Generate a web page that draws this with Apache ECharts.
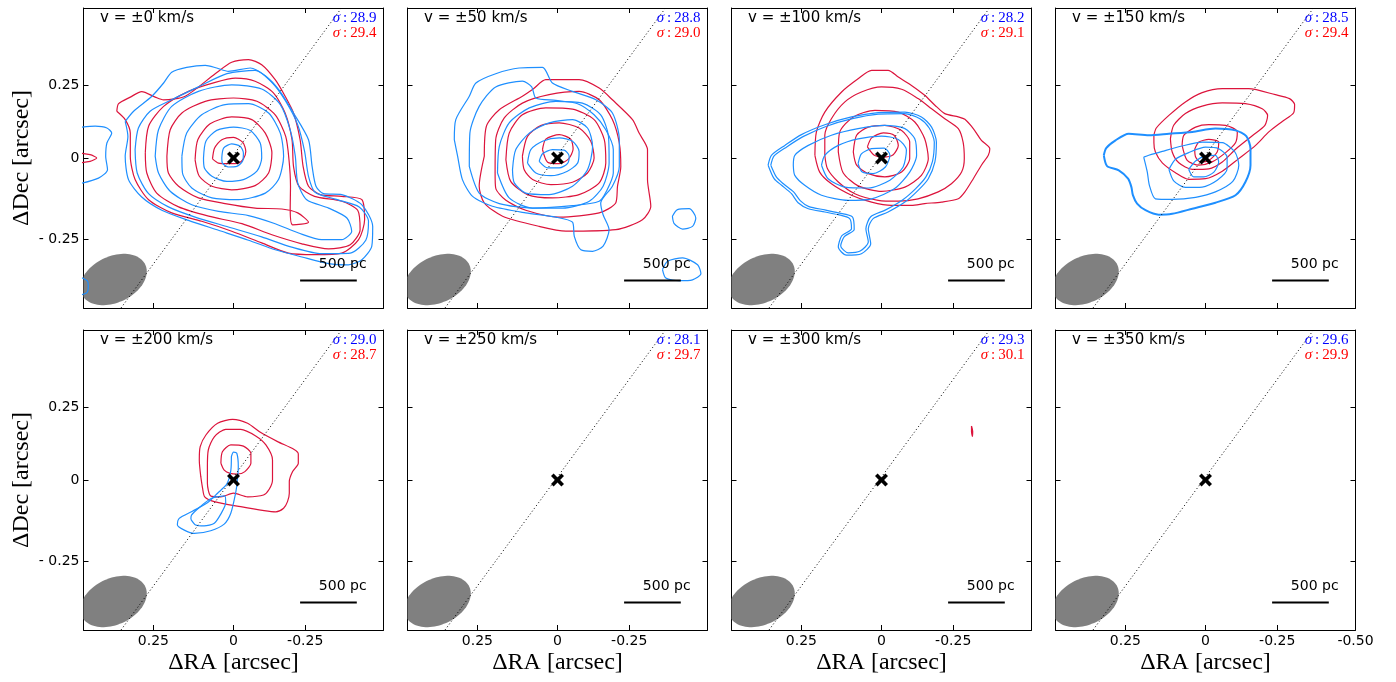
<!DOCTYPE html>
<html>
<head>
<meta charset="utf-8">
<script src="https://cdn.jsdelivr.net/npm/echarts@6/dist/echarts.min.js"></script>
<style>
html,body{margin:0;padding:0;background:#fff;}
#chart{width:1396px;height:682px;}
</style>
</head>
<body>
<div id="chart"></div>
<script>
// Channel velocities and map noise levels
const velocityText = ['±0', '±50', '±100', '±150', '±200', '±250', '±300', '±350'];
const sigmaBlue = ['28.9', '28.8', '28.2', '28.5', '29.0', '28.1', '29.3', '29.6'];
const sigmaRed  = ['29.4', '29.0', '29.1', '29.4', '28.7', '29.7', '30.1', '29.9'];

// Tick marks (arcsec offsets) and their printed labels
const xTickPos  = [0.267, 0, -0.239, -0.5];
const xTickText = ['0.25', '0', '-0.25', '-0.50'];
const yTickPos  = [0.241, 0, -0.27];
const yTickText = ['0.25', '0', '- 0.25'];

// Synthesised beam: centre, semi-axes (arcsec), tilt (deg)
const beamCenter = [0.40, -0.405];
const beamSemiAxes = [0.117, 0.077];
const beamTilt = 25;

// Kinematic major axis (dotted line), scale bar
const majorAxisEnds = [[0.375, -0.5], [-0.36, 0.5]];
const scaleBarEnds = [[-0.222, -0.408], [-0.411, -0.408]];
const scaleBarLabelAt = [-0.364, -0.353];
const scaleBarText = '500 pc';
const nucleus = [0, 0];

// Contours, [ΔRA, ΔDec] in arcsec, per channel
const blue0 = [
  [[0.361,0.122],[0.333,0.156],[0.272,0.206],[0.233,0.25],[0.206,0.286],[0.156,0.302],[0.094,0.309],[0.056,0.3],[0.017,0.289],[-0.056,0.3],[-0.106,0.274],[-0.152,0.226],[-0.2,0.15],[-0.25,0.061],[-0.262,-0.028],[-0.275,-0.094],[-0.3,-0.119],[-0.361,-0.122],[-0.428,-0.156],[-0.464,-0.228],[-0.461,-0.294],[-0.428,-0.339],[-0.383,-0.356],[-0.317,-0.352],[-0.228,-0.33],[-0.139,-0.306],[-0.05,-0.274],[0.05,-0.241],[0.15,-0.208],[0.239,-0.174],[0.306,-0.13],[0.35,-0.072],[0.361,0.006],[0.352,0.072]],
  [[0.328,0.028],[0.317,0.1],[0.278,0.156],[0.206,0.194],[0.117,0.237],[0.022,0.281],[-0.072,0.292],[-0.13,0.25],[-0.174,0.189],[-0.214,0.111],[-0.237,0.022],[-0.25,-0.061],[-0.272,-0.114],[-0.339,-0.137],[-0.419,-0.163],[-0.45,-0.211],[-0.441,-0.274],[-0.389,-0.317],[-0.294,-0.319],[-0.194,-0.297],[-0.094,-0.263],[0.017,-0.23],[0.128,-0.197],[0.217,-0.163],[0.283,-0.119],[0.321,-0.05]],
  [[0.261,0.006],[0.25,0.094],[0.206,0.172],[0.117,0.222],[0.006,0.244],[-0.094,0.23],[-0.156,0.178],[-0.189,0.094],[-0.206,0.006],[-0.214,-0.083],[-0.244,-0.139],[-0.317,-0.167],[-0.378,-0.2],[-0.394,-0.244],[-0.361,-0.272],[-0.294,-0.272],[-0.217,-0.25],[-0.139,-0.219],[-0.05,-0.192],[0.05,-0.178],[0.139,-0.156],[0.211,-0.111],[0.25,-0.05]],
  [[0.172,0.006],[0.156,0.083],[0.106,0.144],[0.028,0.178],[-0.05,0.181],[-0.117,0.15],[-0.156,0.083],[-0.167,0.006],[-0.15,-0.072],[-0.106,-0.117],[-0.017,-0.139],[0.072,-0.133],[0.139,-0.1],[0.17,-0.05]],
  [[0.1,0],[0.092,0.056],[0.056,0.092],[0,0.103],[-0.056,0.092],[-0.089,0.05],[-0.094,0],[-0.078,-0.044],[-0.033,-0.072],[0.022,-0.078],[0.072,-0.061],[0.097,-0.033]],
  [[0.039,0],[0.033,0.033],[0.006,0.047],[-0.022,0.039],[-0.033,0.017],[-0.03,-0.011],[-0.011,-0.028],[0.017,-0.03],[0.037,-0.017]],
  [[0.53,0.1],[0.461,0.106],[0.422,0.1],[0.406,0.083],[0.422,0.05],[0.426,0.006],[0.42,-0.039],[0.45,-0.067],[0.53,-0.09]],
  [[0.53,-0.39],[0.487,-0.41],[0.484,-0.43],[0.49,-0.45],[0.53,-0.46]]
];
const red0 = [
  [[0.389,0.156],[0.383,0.181],[0.344,0.203],[0.306,0.221],[0.261,0.203],[0.233,0.194],[0.161,0.206],[0.061,0.281],[0.006,0.319],[-0.05,0.328],[-0.094,0.311],[-0.139,0.261],[-0.172,0.206],[-0.2,0.15],[-0.222,0.061],[-0.232,-0.028],[-0.25,-0.094],[-0.289,-0.122],[-0.361,-0.128],[-0.428,-0.139],[-0.437,-0.206],[-0.417,-0.272],[-0.361,-0.317],[-0.272,-0.322],[-0.183,-0.317],[-0.094,-0.283],[0.006,-0.244],[0.106,-0.211],[0.206,-0.183],[0.283,-0.139],[0.328,-0.072],[0.344,0.006],[0.344,0.083],[0.361,0.128]],
  [[0.294,0.017],[0.283,0.106],[0.233,0.172],[0.15,0.222],[0.061,0.252],[-0.006,0.266],[-0.072,0.256],[-0.133,0.217],[-0.172,0.15],[-0.195,0.061],[-0.2,-0.028],[-0.218,-0.094],[-0.27,-0.128],[-0.361,-0.144],[-0.414,-0.174],[-0.422,-0.239],[-0.389,-0.289],[-0.317,-0.303],[-0.228,-0.286],[-0.128,-0.256],[-0.028,-0.219],[0.083,-0.194],[0.183,-0.163],[0.256,-0.117],[0.289,-0.05]],
  [[0.222,0.006],[0.211,0.094],[0.172,0.15],[0.094,0.189],[0,0.2],[-0.078,0.189],[-0.139,0.144],[-0.174,0.072],[-0.185,-0.006],[-0.19,-0.094],[-0.189,-0.172],[-0.197,-0.223],[-0.25,-0.214],[-0.214,-0.183],[-0.161,-0.17],[-0.072,-0.167],[0.028,-0.152],[0.117,-0.133],[0.183,-0.094],[0.217,-0.05]],
  [[0.128,-0.006],[0.119,0.061],[0.078,0.114],[0.006,0.137],[-0.061,0.128],[-0.106,0.083],[-0.128,0.017],[-0.117,-0.05],[-0.072,-0.092],[0.006,-0.106],[0.072,-0.094],[0.114,-0.061]],
  [[0.07,-0.003],[0.063,0.033],[0.039,0.061],[0,0.069],[-0.031,0.052],[-0.041,0.022],[-0.033,-0.003],[-0.017,-0.017],[0.017,-0.019],[0.05,-0.017]],
  [[0.53,0.018],[0.478,0.011],[0.456,0],[0.478,-0.011],[0.53,-0.018]]
];

const blue1 = [
  [[0.344,0.061],[0.339,0.128],[0.294,0.206],[0.272,0.25],[0.206,0.281],[0.128,0.3],[0.05,0.302],[0.017,0.25],[-0.05,0.222],[-0.128,0.194],[-0.183,0.15],[-0.206,0.061],[-0.206,-0.028],[-0.183,-0.094],[-0.144,-0.15],[-0.152,-0.189],[-0.172,-0.239],[-0.152,-0.294],[-0.117,-0.311],[-0.078,-0.306],[-0.056,-0.261],[-0.05,-0.214],[0.006,-0.197],[0.106,-0.183],[0.217,-0.161],[0.283,-0.128],[0.317,-0.072],[0.333,0.006]],
  [[0.294,-0.028],[0.292,0.083],[0.261,0.172],[0.206,0.237],[0.117,0.256],[0.086,0.237],[0.072,0.2],[0.006,0.192],[-0.067,0.181],[-0.122,0.144],[-0.161,0.094],[-0.186,0.028],[-0.186,-0.05],[-0.163,-0.111],[-0.139,-0.144],[-0.05,-0.159],[0.083,-0.167],[0.194,-0.152],[0.261,-0.117]],
  [[0.2,-0.05],[0.194,0.039],[0.161,0.117],[0.094,0.167],[0.006,0.189],[-0.083,0.183],[-0.144,0.144],[-0.17,0.072],[-0.172,-0.017],[-0.152,-0.094],[-0.106,-0.144],[-0.017,-0.167],[0.083,-0.167],[0.161,-0.133]],
  [[0.15,-0.039],[0.139,0.028],[0.094,0.083],[0.028,0.117],[-0.05,0.128],[-0.1,0.1],[-0.117,0.039],[-0.1,-0.039],[-0.05,-0.094],[0.028,-0.122],[0.106,-0.117],[0.144,-0.083]],
  [[0.1,-0.017],[0.089,0.028],[0.05,0.056],[-0.006,0.067],[-0.05,0.056],[-0.072,0.022],[-0.067,-0.017],[-0.033,-0.044],[0.022,-0.059],[0.072,-0.05]],
  [[0.061,-0.011],[0.05,0.014],[0.017,0.028],[-0.022,0.026],[-0.039,0.006],[-0.033,-0.019],[-0.006,-0.033],[0.033,-0.033]],
  [[-0.383,-0.194],[-0.4,-0.172],[-0.439,-0.169],[-0.461,-0.2],[-0.45,-0.228],[-0.417,-0.237],[-0.389,-0.219]],
  [[-0.35,-0.372],[-0.367,-0.344],[-0.417,-0.333],[-0.467,-0.356],[-0.478,-0.386],[-0.45,-0.406],[-0.406,-0.409],[-0.361,-0.4]]
];
const red1 = [
  [[0.244,0.006],[0.237,0.106],[0.194,0.161],[0.117,0.206],[0.081,0.23],[0.039,0.261],[-0.072,0.261],[-0.139,0.233],[-0.183,0.194],[-0.25,0.128],[-0.272,0.083],[-0.3,0.028],[-0.3,-0.072],[-0.311,-0.161],[-0.283,-0.206],[-0.194,-0.239],[-0.028,-0.244],[0.061,-0.228],[0.183,-0.194],[0.244,-0.15],[0.261,-0.094]],
  [[0.208,-0.05],[0.206,0.061],[0.178,0.133],[0.117,0.183],[0.028,0.211],[-0.072,0.222],[-0.139,0.194],[-0.183,0.128],[-0.206,0.05],[-0.211,-0.028],[-0.2,-0.094],[-0.194,-0.15],[-0.139,-0.183],[-0.006,-0.197],[0.106,-0.174],[0.172,-0.141],[0.206,-0.1]],
  [[0.172,-0.006],[0.161,0.083],[0.117,0.144],[0.039,0.167],[-0.05,0.163],[-0.122,0.128],[-0.156,0.061],[-0.161,-0.017],[-0.139,-0.083],[-0.072,-0.122],[0.017,-0.133],[0.1,-0.122],[0.156,-0.078]],
  [[0.117,0.006],[0.1,0.072],[0.056,0.108],[-0.006,0.117],[-0.072,0.1],[-0.111,0.056],[-0.122,0],[-0.1,-0.05],[-0.05,-0.081],[0.022,-0.089],[0.083,-0.072],[0.111,-0.039]],
  [[0.05,0.028],[0.039,0.063],[-0.006,0.078],[-0.044,0.063],[-0.052,0.03],[-0.037,-0.003],[-0.006,-0.019],[0.033,-0.014]]
];

const blue2 = [
  [[0.378,-0.024],[0.367,0.009],[0.322,0.042],[0.267,0.078],[0.189,0.111],[0.1,0.137],[0.011,0.151],[-0.078,0.153],[-0.133,0.137],[-0.167,0.103],[-0.183,0.053],[-0.178,-0.013],[-0.156,-0.069],[-0.122,-0.108],[-0.078,-0.147],[-0.022,-0.18],[0.028,-0.202],[0.044,-0.236],[0.036,-0.286],[0.067,-0.319],[0.117,-0.324],[0.144,-0.297],[0.133,-0.26],[0.1,-0.236],[0.106,-0.202],[0.144,-0.189],[0.189,-0.18],[0.244,-0.169],[0.278,-0.149],[0.3,-0.119],[0.333,-0.091],[0.358,-0.069]],
  [[0.369,-0.024],[0.358,0.007],[0.316,0.037],[0.26,0.072],[0.183,0.106],[0.097,0.131],[0.011,0.146],[-0.076,0.148],[-0.128,0.131],[-0.159,0.1],[-0.176,0.053],[-0.17,-0.011],[-0.148,-0.063],[-0.114,-0.102],[-0.07,-0.14],[-0.014,-0.173],[0.036,-0.196],[0.052,-0.236],[0.044,-0.28],[0.071,-0.31],[0.111,-0.316],[0.136,-0.293],[0.124,-0.262],[0.091,-0.238],[0.097,-0.196],[0.144,-0.183],[0.189,-0.173],[0.242,-0.162],[0.271,-0.142],[0.293,-0.113],[0.327,-0.086],[0.35,-0.064]],
  [[0.294,-0.024],[0.289,0.009],[0.244,0.042],[0.167,0.076],[0.078,0.098],[-0.011,0.109],[-0.078,0.098],[-0.111,0.064],[-0.117,0.009],[-0.094,-0.047],[-0.044,-0.102],[0.033,-0.136],[0.111,-0.141],[0.2,-0.124],[0.256,-0.091],[0.289,-0.058]],
  [[0.2,-0.024],[0.189,0.009],[0.144,0.042],[0.078,0.064],[0,0.073],[-0.056,0.062],[-0.083,0.026],[-0.072,-0.03],[-0.028,-0.074],[0.044,-0.1],[0.122,-0.097],[0.178,-0.069]],
  [[0.078,-0.019],[0.067,0.014],[0.033,0.031],[-0.009,0.033],[-0.028,0.009],[-0.013,-0.03],[0.028,-0.052],[0.064,-0.047]]
];
const red2 = [
  [[0.222,0.009],[0.217,0.087],[0.189,0.153],[0.133,0.22],[0.078,0.264],[0.033,0.292],[-0.022,0.292],[-0.056,0.27],[-0.1,0.242],[-0.144,0.209],[-0.178,0.176],[-0.211,0.148],[-0.256,0.137],[-0.278,0.129],[-0.306,0.098],[-0.333,0.059],[-0.361,0.031],[-0.356,0.009],[-0.333,-0.024],[-0.306,-0.069],[-0.278,-0.113],[-0.256,-0.136],[-0.2,-0.147],[-0.144,-0.152],[-0.1,-0.158],[-0.033,-0.158],[0.033,-0.147],[0.1,-0.124],[0.167,-0.086],[0.206,-0.047]],
  [[0.189,0.009],[0.189,0.076],[0.167,0.131],[0.122,0.187],[0.067,0.22],[0,0.237],[-0.067,0.229],[-0.122,0.198],[-0.167,0.164],[-0.211,0.131],[-0.256,0.098],[-0.272,0.053],[-0.276,-0.002],[-0.267,-0.047],[-0.233,-0.086],[-0.189,-0.113],[-0.122,-0.136],[-0.056,-0.144],[0.011,-0.141],[0.089,-0.119],[0.144,-0.08],[0.18,-0.036]],
  [[0.144,0.02],[0.139,0.087],[0.094,0.137],[0.022,0.159],[-0.056,0.153],[-0.111,0.12],[-0.144,0.064],[-0.156,-0.002],[-0.133,-0.058],[-0.078,-0.097],[0,-0.111],[0.078,-0.093],[0.128,-0.049]],
  [[0.094,0.02],[0.083,0.076],[0.044,0.103],[-0.011,0.109],[-0.067,0.092],[-0.094,0.053],[-0.094,-0.002],[-0.067,-0.047],[-0.011,-0.063],[0.044,-0.052],[0.083,-0.024]],
  [[0.047,0.037],[0.033,0.067],[-0.006,0.084],[-0.042,0.076],[-0.056,0.042],[-0.039,0.011],[-0.009,0.003],[0.024,0.009]]
];

const blue3 = [
  [[0.339,0.009],[0.331,0.033],[0.3,0.059],[0.256,0.081],[0.189,0.076],[0.122,0.081],[0.044,0.087],[-0.033,0.098],[-0.1,0.092],[-0.136,0.073],[-0.15,0.031],[-0.15,-0.024],[-0.133,-0.08],[-0.1,-0.124],[-0.033,-0.149],[0.044,-0.169],[0.111,-0.186],[0.156,-0.189],[0.2,-0.174],[0.228,-0.152],[0.242,-0.124],[0.247,-0.097],[0.258,-0.069],[0.289,-0.041],[0.328,-0.027]],
  [[0.206,0.003],[0.189,0.009],[0.144,0.022],[0.078,0.04],[0.011,0.053],[-0.056,0.051],[-0.098,0.02],[-0.111,-0.024],[-0.091,-0.078],[-0.033,-0.113],[0.033,-0.131],[0.111,-0.138],[0.167,-0.136],[0.187,-0.091],[0.194,-0.047]],
  [[0.122,-0.038],[0.1,-0.004],[0.056,0.018],[0,0.036],[-0.044,0.031],[-0.072,0.003],[-0.072,-0.036],[-0.039,-0.074],[0.011,-0.097],[0.067,-0.098],[0.106,-0.076]],
  [[0.056,-0.038],[0.033,-0.01],[0,0.007],[-0.033,0.009],[-0.044,-0.013],[-0.028,-0.047],[0.006,-0.063],[0.039,-0.063]]
];
const red3 = [
  [[0.172,0.076],[0.164,0.1],[0.122,0.142],[0.067,0.187],[0.011,0.218],[-0.056,0.231],[-0.144,0.231],[-0.233,0.211],[-0.28,0.198],[-0.297,0.178],[-0.294,0.151],[-0.256,0.122],[-0.211,0.087],[-0.167,0.042],[-0.111,-0.002],[-0.056,-0.044],[0,-0.069],[0.056,-0.071],[0.1,-0.049],[0.144,-0.016],[0.167,0.02],[0.172,0.051]],
  [[0.117,0.064],[0.106,0.109],[0.067,0.148],[0.011,0.173],[-0.056,0.184],[-0.133,0.181],[-0.189,0.164],[-0.207,0.142],[-0.198,0.109],[-0.158,0.076],[-0.102,0.031],[-0.056,-0.013],[-0.011,-0.036],[0.044,-0.038],[0.089,-0.016],[0.111,0.02]],
  [[0.078,0.042],[0.072,0.076],[0.033,0.103],[-0.011,0.111],[-0.067,0.109],[-0.106,0.087],[-0.1,0.051],[-0.067,0.018],[-0.022,-0.013],[0.022,-0.024],[0.061,-0.008]],
  [[0.036,0.029],[0.022,0.053],[-0.011,0.062],[-0.044,0.053],[-0.039,0.02],[-0.011,-0.008],[0.017,-0.013],[0.033,0.003]]
];

const blue4 = [
  [[0.007,0.078],[0,0.093],[-0.011,0.089],[-0.016,0.044],[-0.013,0],[-0.007,-0.044],[0.009,-0.111],[0.031,-0.147],[0.076,-0.169],[0.131,-0.178],[0.164,-0.167],[0.187,-0.15],[0.181,-0.128],[0.137,-0.104],[0.087,-0.076],[0.053,-0.044],[0.022,-0.013],[0.009,0.031]],
  [[0.142,-0.131],[0.14,-0.117],[0.111,-0.089],[0.073,-0.061],[0.029,-0.053],[0.026,-0.076],[0.042,-0.113],[0.064,-0.144],[0.098,-0.153],[0.126,-0.15]]
];
const red4 = [
  [[0.109,0.011],[0.114,0.067],[0.111,0.111],[0.092,0.15],[0.053,0.189],[0.003,0.202],[-0.047,0.189],[-0.091,0.158],[-0.147,0.128],[-0.202,0.102],[-0.216,0.087],[-0.216,0.056],[-0.197,0.028],[-0.186,-0.006],[-0.186,-0.044],[-0.18,-0.072],[-0.167,-0.094],[-0.141,-0.106],[-0.102,-0.102],[-0.024,-0.089],[0.064,-0.072],[0.096,-0.056],[0.103,-0.028]],
  [[0.087,0.044],[0.084,0.1],[0.064,0.144],[0.026,0.169],[-0.024,0.169],[-0.074,0.147],[-0.108,0.117],[-0.13,0.067],[-0.13,0],[-0.119,-0.031],[-0.1,-0.05],[-0.047,-0.056],[0,-0.044],[0.042,-0.056],[0.076,-0.053],[0.087,-0.011]],
  [[0.042,0.056],[0.037,0.094],[0.009,0.117],[-0.033,0.113],[-0.058,0.089],[-0.058,0.056],[-0.038,0.028],[-0.013,0.02],[0.011,0.022],[0.031,0.033]]
];

const red6 = [
  [[-0.3,0.18],[-0.304,0.162],[-0.303,0.145],[-0.3,0.162]]
];

const blueContours = [blue0, blue1, blue2, blue3, blue4, [], [], []];
const redContours  = [red0, red1, red2, red3, red4, [], red6, []];

// ---- layout & styling ----
const GRID_W = 300, GRID_H = 300;
const colLeft = [83.5, 407.5, 731.5, 1055.5];
const rowTop = [8, 330];
const BLUE = '#1e8fff', RED = '#dc143c';
const heavyBlue = { 3: [0] };   // channel 4: outer blue level drawn heavier
const SANS = 'DejaVu Sans', SERIF = 'Liberation Serif';

function tickText(v, pos, text) {
  for (let i = 0; i < pos.length; i++) if (Math.abs(pos[i] - v) < 1e-6) return text[i];
  return '';
}

function beamRender(params, api) {
  const c = api.coord([api.value(0), api.value(1)]);
  const s = api.size([api.value(2), api.value(3)]);
  const rx = Math.abs(s[0]), ry = Math.abs(s[1]);
  const t = api.value(4) * Math.PI / 180;
  const cs = params.coordSys;
  const pts = [];
  for (let k = 0; k < 90; k++) {
    const a = k / 90 * 2 * Math.PI;
    const ex = rx * Math.cos(a), ey = ry * Math.sin(a);
    let px = c[0] + ex * Math.cos(t) - ey * Math.sin(t);
    let py = c[1] - (ex * Math.sin(t) + ey * Math.cos(t));
    px = Math.min(Math.max(px, cs.x), cs.x + cs.width);
    py = Math.min(Math.max(py, cs.y), cs.y + cs.height);
    pts.push([px, py]);
  }
  return { type: 'polygon', shape: { points: pts }, style: { fill: '#808080' } };
}

const grids = [], xAxes = [], yAxes = [], series = [], graphics = [];
const crossPath = 'path://M0,2 L2,0 L5,3 L8,0 L10,2 L7,5 L10,8 L8,10 L5,7 L2,10 L0,8 L3,5 Z';

for (let p = 0; p < 8; p++) {
  const row = Math.floor(p / 4), col = p % 4;
  const left = colLeft[col], top = rowTop[row];
  grids.push({ left: left, top: top, width: GRID_W, height: GRID_H, containLabel: false, outerBoundsMode: 'none' });

  const xVals = (row === 1 && col === 3) ? xTickPos : xTickPos.slice(0, 3);
  const frameLine = { show: true, onZero: false, lineStyle: { color: '#000', width: 1 } };
  const xBase = {
    gridIndex: p, type: 'value', min: -0.5, max: 0.5, inverse: true,
    splitLine: { show: false }, axisLine: frameLine,
    axisTick: { show: true, inside: true, length: 5, customValues: xVals, lineStyle: { color: '#000', width: 1 } }
  };
  xAxes.push(Object.assign({}, xBase, {
    position: 'bottom',
    axisLabel: {
      show: row === 1, customValues: xVals, margin: 4,
      formatter: v => tickText(v, xTickPos, xTickText),
      fontFamily: SANS, fontSize: 14, color: '#000'
    },
    name: row === 1 ? 'ΔRA [arcsec]' : '',
    nameLocation: 'middle', nameGap: 21,
    nameTextStyle: { fontFamily: SERIF, fontSize: 24, color: '#000' }
  }));
  xAxes.push(Object.assign({}, xBase, { position: 'top', axisLabel: { show: false } }));

  const yBase = {
    gridIndex: p, type: 'value', min: -0.5, max: 0.5,
    splitLine: { show: false }, axisLine: frameLine,
    axisTick: { show: true, inside: true, length: 5, customValues: yTickPos, lineStyle: { color: '#000', width: 1 } }
  };
  yAxes.push(Object.assign({}, yBase, {
    position: 'left',
    axisLabel: {
      show: col === 0, customValues: yTickPos, margin: 4,
      formatter: v => tickText(v, yTickPos, yTickText),
      fontFamily: SANS, fontSize: 14, color: '#000'
    },
    name: col === 0 ? 'ΔDec [arcsec]' : '',
    nameLocation: 'middle', nameRotate: 90, nameGap: 50,
    nameTextStyle: { fontFamily: SERIF, fontSize: 24, color: '#000' }
  }));
  yAxes.push(Object.assign({}, yBase, { position: 'right', axisLabel: { show: false } }));

  const xi = 2 * p, yi = 2 * p;

  // beam
  series.push({
    type: 'custom', xAxisIndex: xi, yAxisIndex: yi, silent: true, z: 1,
    data: [[beamCenter[0], beamCenter[1], beamSemiAxes[0], beamSemiAxes[1], beamTilt]],
    encode: { x: 0, y: 1 },
    renderItem: beamRender
  });

  // contours
  const addContours = (list, color, heavy) => {
    list.forEach((c, k) => {
      series.push({
        type: 'line', xAxisIndex: xi, yAxisIndex: yi, silent: true, z: 2,
        data: c.concat([c[0]]), showSymbol: false, symbol: 'none', smooth: 0.25,
        lineStyle: { color: color, width: (heavy && heavy.indexOf(k) >= 0) ? 2 : 1.2, opacity: 1 },
        emphasis: { disabled: true }
      });
    });
  };
  addContours(redContours[p], RED, null);
  addContours(blueContours[p], BLUE, heavyBlue[p]);

  // dotted major axis
  series.push({
    type: 'line', xAxisIndex: xi, yAxisIndex: yi, silent: true, z: 3,
    data: majorAxisEnds, showSymbol: false, symbol: 'none',
    lineStyle: { color: '#000', width: 1, type: [1, 2.5], opacity: 1 }
  });

  // scale bar
  series.push({
    type: 'line', xAxisIndex: xi, yAxisIndex: yi, silent: true, z: 3,
    data: scaleBarEnds, showSymbol: false, symbol: 'none',
    lineStyle: { color: '#000', width: 2, opacity: 1 }
  });
  series.push({
    type: 'scatter', xAxisIndex: xi, yAxisIndex: yi, silent: true, z: 3,
    data: [scaleBarLabelAt], symbolSize: 1, itemStyle: { color: '#fff', opacity: 0 },
    label: {
      show: true, position: 'inside', formatter: scaleBarText, color: '#000', opacity: 1,
      textBorderWidth: 0, fontFamily: SANS, fontSize: 14
    }
  });

  // nucleus marker
  series.push({
    type: 'scatter', xAxisIndex: xi, yAxisIndex: yi, silent: true, z: 6,
    data: [nucleus], symbol: crossPath, symbolSize: 13, itemStyle: { color: '#000', opacity: 1 }
  });

  // channel velocity and noise annotations
  graphics.push({
    type: 'text', x: left + 16.5, y: top + 10.5, z: 10,
    style: { text: 'v = ' + velocityText[p] + ' km/s', fontFamily: SANS, fontSize: 15, fill: '#000', verticalAlign: 'middle' }
  });
  [[sigmaBlue[p], '#0000ff', 10.5], [sigmaRed[p], '#ff0000', 25.5]].forEach(([val, colr, dy]) => {
    graphics.push({
      type: 'text', x: left + 293, y: top + dy, z: 10,
      style: {
        text: '{s|σ}{n|\u2009:\u2009' + val + '}', align: 'right', verticalAlign: 'middle',
        rich: {
          s: { fontFamily: SERIF, fontStyle: 'italic', fontSize: 15, fill: colr },
          n: { fontFamily: SERIF, fontSize: 15, fill: colr }
        }
      }
    });
  });
}

const chart = echarts.init(document.getElementById('chart'));
chart.setOption({
  animation: false,
  backgroundColor: '#fff',
  grid: grids, xAxis: xAxes, yAxis: yAxes,
  series: series,
  graphic: graphics
});
</script>
</body>
</html>
